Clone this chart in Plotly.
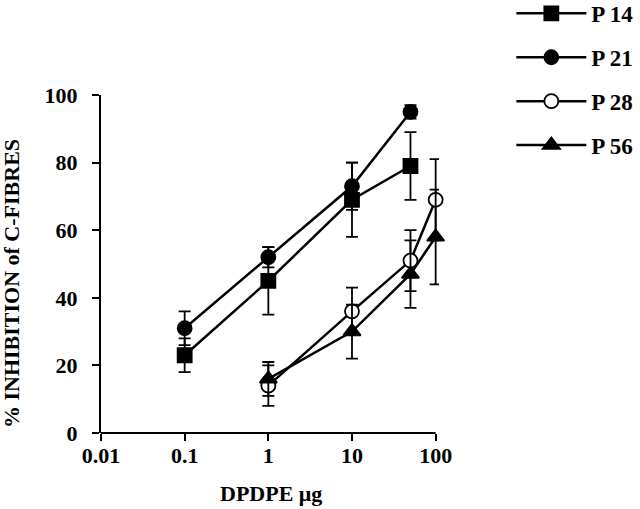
import plotly.graph_objects as go

dose_early = [0.1, 1, 10, 50]
dose_late = [1, 10, 50, 100]

p14 = [23, 45, 69, 79]
p14_err = [5, 10, 11, 10]
p21 = [31, 52, 73, 95]
p21_err = [5, 3, 7, 2]
p28 = [14, 36, 51, 69]
p28_err = [6, 7, 9, 12]
p56 = [16, 30, 47, 58]
p56_err = [5, 8, 10, 14]

x_ticks = [0.01, 0.1, 1, 10, 100]
x_tick_labels = ["0.01", "0.1", "1", "10", "100"]
y_ticks = [0, 20, 40, 60, 80, 100]

FONT = "Liberation Serif"

series = [
    ("P 14", dose_early, p14, p14_err, "square", "black"),
    ("P 21", dose_early, p21, p21_err, "circle", "black"),
    ("P 28", dose_late, p28, p28_err, "circle", "white"),
    ("P 56", dose_late, p56, p56_err, "triangle-up", "black"),
]

fig = go.Figure()
for i, (name, xs, ys, es, sym, fill) in enumerate(series):
    fig.add_trace(go.Scatter(
        x=xs, y=ys, name=name, mode="lines+markers",
        legendgroup=name,
        line=dict(color="black", width=2.5),
        marker=dict(symbol=sym, size=14 if sym != "triangle-up" else 15,
                    color=fill, line=dict(color="black", width=1.8)),
        error_y=dict(type="data", array=es, visible=True, color="black",
                     thickness=1.8, width=6),
        cliponaxis=False,
    ))

axis_font = dict(family=FONT, size=22, color="black", weight="bold")
title_font = dict(family=FONT, size=22, color="black", weight="bold")

X_LO, X_HI = -2, 2.04  # small headroom so the 100 error bars are not clipped
frac_100 = (2 - X_LO) / (X_HI - X_LO)

fig.update_layout(
    width=640, height=509,
    margin=dict(l=101, r=200.6, t=95, b=76, autoexpand=False),
    paper_bgcolor="white", plot_bgcolor="white",
    showlegend=True,
    legend=dict(x=1.214, y=1.305, xanchor="left", yanchor="top",
                font=dict(family=FONT, size=23, color="black", weight="bold"),
                itemwidth=70, tracegroupgap=11, bgcolor="rgba(0,0,0,0)"),
    xaxis=dict(type="log", range=[X_LO, X_HI], tickvals=x_ticks, ticktext=x_tick_labels,
               showline=False, automargin=False,
               ticks="outside", ticklen=7, tickwidth=2, tickcolor="black",
               ticklabelstandoff=-4,
               showgrid=False, zeroline=False, tickfont=axis_font),
    yaxis=dict(range=[0, 100], tickvals=y_ticks, automargin=False,
               showline=True, linecolor="black", linewidth=2,
               ticks="outside", ticklen=7, tickwidth=2, tickcolor="black",
               ticklabelstandoff=10,
               showgrid=False, zeroline=False, tickfont=axis_font),
    shapes=[dict(type="line", xref="paper", yref="paper", x0=0, x1=frac_100,
                 y0=0, y1=0, line=dict(color="black", width=2))],
    annotations=[
        dict(text="DPDPE μg", xref="paper", yref="paper", x=0.503, y=-0.18,
             xanchor="center", yanchor="middle", showarrow=False, font=title_font),
        dict(text="% INHIBITION of C-FIBRES", xref="paper", yref="paper",
             x=-0.263, y=0.441, xanchor="center", yanchor="middle",
             textangle=-90, showarrow=False, font=title_font),
    ],
)

fig.write_html("out.html", config={"displayModeBar": False},
               post_script="document.body.style.margin='0px';")
